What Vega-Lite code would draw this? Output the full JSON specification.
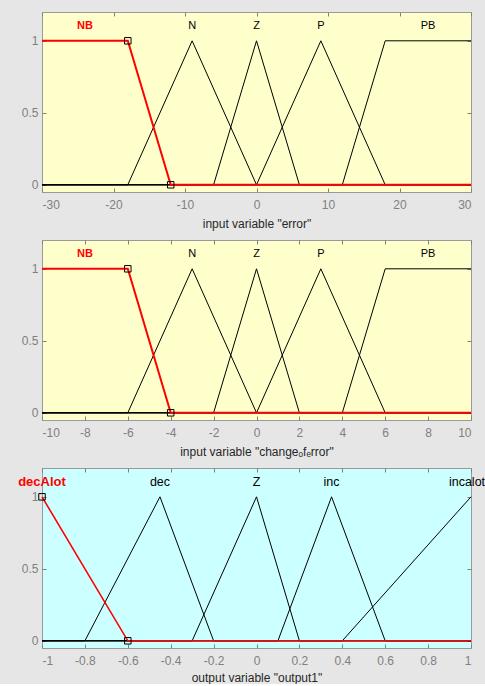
{
  "$schema": "https://vega.github.io/schema/vega-lite/v6.json",
  "background": "#e6e6e6",
  "padding": {"left": 17, "top": 11, "right": 0, "bottom": 0},
  "spacing": 9,
  "config": {
    "view": {"stroke": "#9a9a9a", "strokeWidth": 1},
    "axis": {
      "domain": false, "grid": false,
      "labelFont": "Liberation Sans", "labelFontSize": 12, "labelColor": "#808080",
      "tickColor": "#808080", "tickSize": -4, "labelPadding": 8,
      "titleFont": "Liberation Sans", "titleFontSize": 12, "titleColor": "#262626", "titleFontWeight": "normal",
      "labelExpr": "'' + datum.value"
    },
    "axisX": {"labelPadding": 11},
    "text": {"font": "Liberation Sans"}
  },
  "datasets": {
    "e": [
      {"mf": "NB", "x": -30, "y": 1}, {"mf": "NB", "x": -18, "y": 1}, {"mf": "NB", "x": -12, "y": 0}, {"mf": "NB", "x": 30, "y": 0},
      {"mf": "N", "x": -30, "y": 0}, {"mf": "N", "x": -18, "y": 0}, {"mf": "N", "x": -9, "y": 1}, {"mf": "N", "x": 0, "y": 0}, {"mf": "N", "x": 30, "y": 0},
      {"mf": "Z", "x": -30, "y": 0}, {"mf": "Z", "x": -6, "y": 0}, {"mf": "Z", "x": 0, "y": 1}, {"mf": "Z", "x": 6, "y": 0}, {"mf": "Z", "x": 30, "y": 0},
      {"mf": "P", "x": -30, "y": 0}, {"mf": "P", "x": 0, "y": 0}, {"mf": "P", "x": 9, "y": 1}, {"mf": "P", "x": 18, "y": 0}, {"mf": "P", "x": 30, "y": 0},
      {"mf": "PB", "x": -30, "y": 0}, {"mf": "PB", "x": 12, "y": 0}, {"mf": "PB", "x": 18, "y": 1}, {"mf": "PB", "x": 30, "y": 1}
    ],
    "eLab": [
      {"mf": "NB", "x": -24, "y": 1.1}, {"mf": "N", "x": -9, "y": 1.1}, {"mf": "Z", "x": 0, "y": 1.1}, {"mf": "P", "x": 9, "y": 1.1}, {"mf": "PB", "x": 24, "y": 1.1}
    ],
    "ePt": [{"x": -18, "y": 1}, {"x": -12, "y": 0}],
    "c": [
      {"mf": "NB", "x": -10, "y": 1}, {"mf": "NB", "x": -6, "y": 1}, {"mf": "NB", "x": -4, "y": 0}, {"mf": "NB", "x": 10, "y": 0},
      {"mf": "N", "x": -10, "y": 0}, {"mf": "N", "x": -6, "y": 0}, {"mf": "N", "x": -3, "y": 1}, {"mf": "N", "x": 0, "y": 0}, {"mf": "N", "x": 10, "y": 0},
      {"mf": "Z", "x": -10, "y": 0}, {"mf": "Z", "x": -2, "y": 0}, {"mf": "Z", "x": 0, "y": 1}, {"mf": "Z", "x": 2, "y": 0}, {"mf": "Z", "x": 10, "y": 0},
      {"mf": "P", "x": -10, "y": 0}, {"mf": "P", "x": 0, "y": 0}, {"mf": "P", "x": 3, "y": 1}, {"mf": "P", "x": 6, "y": 0}, {"mf": "P", "x": 10, "y": 0},
      {"mf": "PB", "x": -10, "y": 0}, {"mf": "PB", "x": 4, "y": 0}, {"mf": "PB", "x": 6, "y": 1}, {"mf": "PB", "x": 10, "y": 1}
    ],
    "cLab": [
      {"mf": "NB", "x": -8, "y": 1.1}, {"mf": "N", "x": -3, "y": 1.1}, {"mf": "Z", "x": 0, "y": 1.1}, {"mf": "P", "x": 3, "y": 1.1}, {"mf": "PB", "x": 8, "y": 1.1}
    ],
    "cPt": [{"x": -6, "y": 1}, {"x": -4, "y": 0}],
    "o": [
      {"mf": "decAlot", "x": -1, "y": 1}, {"mf": "decAlot", "x": -0.6, "y": 0}, {"mf": "decAlot", "x": 1, "y": 0},
      {"mf": "dec", "x": -1, "y": 0}, {"mf": "dec", "x": -0.8, "y": 0}, {"mf": "dec", "x": -0.45, "y": 1}, {"mf": "dec", "x": -0.2, "y": 0}, {"mf": "dec", "x": 1, "y": 0},
      {"mf": "Z", "x": -1, "y": 0}, {"mf": "Z", "x": -0.3, "y": 0}, {"mf": "Z", "x": 0, "y": 1}, {"mf": "Z", "x": 0.2, "y": 0}, {"mf": "Z", "x": 1, "y": 0},
      {"mf": "inc", "x": -1, "y": 0}, {"mf": "inc", "x": 0.1, "y": 0}, {"mf": "inc", "x": 0.35, "y": 1}, {"mf": "inc", "x": 0.6, "y": 0}, {"mf": "inc", "x": 1, "y": 0},
      {"mf": "incalot", "x": -1, "y": 0}, {"mf": "incalot", "x": 0.4, "y": 0}, {"mf": "incalot", "x": 1, "y": 1}
    ],
    "oLab": [
      {"mf": "decAlot", "x": -1, "y": 1.1}, {"mf": "dec", "x": -0.45, "y": 1.1}, {"mf": "Z", "x": 0, "y": 1.1}, {"mf": "inc", "x": 0.35, "y": 1.1}, {"mf": "incalot", "x": 1, "y": 1.1}
    ],
    "oPt": [{"x": -1, "y": 1}, {"x": -0.6, "y": 0}]
  },
  "vconcat": [
    {
      "width": 429, "height": 180,
      "view": {"fill": "#ffffcc"},
      "resolve": {"axis": {"x": "independent", "y": "independent"}},
      "layer": [
        {
          "data": {"name": "e"},
          "transform": [{"filter": "datum.mf !== 'NB'"}],
          "mark": {"type": "line", "color": "black", "strokeWidth": 1},
          "encoding": {
            "x": {"field": "x", "type": "quantitative", "scale": {"domain": [-30, 30], "nice": false, "zero": false},
                  "axis": {"values": [-30, -20, -10, 0, 10, 20, 30], "title": "input variable \"error\"", "titlePadding": 8}},
            "y": {"field": "y", "type": "quantitative", "scale": {"domain": [-0.05, 1.2], "nice": false, "zero": false},
                  "axis": {"values": [0, 0.5, 1], "title": null}},
            "detail": {"field": "mf"}
          }
        },
        {
          "data": {"name": "e"},
          "transform": [{"filter": "datum.mf === 'NB'"}],
          "mark": {"type": "line", "color": "#ff0000", "strokeWidth": 2},
          "encoding": {
            "x": {"field": "x", "type": "quantitative", "axis": null},
            "y": {"field": "y", "type": "quantitative", "axis": null}
          }
        },
        {
          "data": {"name": "ePt"},
          "mark": {"type": "point", "shape": "square", "filled": false, "color": "black", "size": 42, "strokeWidth": 1, "opacity": 1},
          "encoding": {
            "x": {"field": "x", "type": "quantitative", "axis": null},
            "y": {"field": "y", "type": "quantitative", "axis": null}
          }
        },
        {
          "data": {"name": "eLab"},
          "transform": [{"filter": "datum.mf === 'NB'"}],
          "mark": {"type": "text", "color": "#ff0000", "fontWeight": "bold", "fontSize": 11},
          "encoding": {
            "x": {"field": "x", "type": "quantitative", "axis": null},
            "y": {"field": "y", "type": "quantitative", "axis": null},
            "text": {"field": "mf"}
          }
        },
        {
          "data": {"name": "eLab"},
          "transform": [{"filter": "datum.mf !== 'NB'"}],
          "mark": {"type": "text", "color": "black", "fontSize": 11},
          "encoding": {
            "x": {"field": "x", "type": "quantitative",
                  "axis": {"orient": "top", "labels": false, "title": null, "values": [-30, -20, -10, 0, 10, 20, 30]}},
            "y": {"field": "y", "type": "quantitative",
                  "axis": {"orient": "right", "labels": false, "title": null, "values": [0, 0.5, 1]}},
            "text": {"field": "mf"}
          }
        }
      ]
    },
    {
      "width": 429, "height": 180,
      "view": {"fill": "#ffffcc"},
      "resolve": {"axis": {"x": "independent", "y": "independent"}},
      "layer": [
        {
          "data": {"name": "c"},
          "transform": [{"filter": "datum.mf !== 'NB'"}],
          "mark": {"type": "line", "color": "black", "strokeWidth": 1},
          "encoding": {
            "x": {"field": "x", "type": "quantitative", "scale": {"domain": [-10, 10], "nice": false, "zero": false},
                  "axis": {"values": [-10, -8, -6, -4, -2, 0, 2, 4, 6, 8, 10], "title": "input variable \"changeₒfₑrror\"", "titlePadding": 8}},
            "y": {"field": "y", "type": "quantitative", "scale": {"domain": [-0.05, 1.2], "nice": false, "zero": false},
                  "axis": {"values": [0, 0.5, 1], "title": null}},
            "detail": {"field": "mf"}
          }
        },
        {
          "data": {"name": "c"},
          "transform": [{"filter": "datum.mf === 'NB'"}],
          "mark": {"type": "line", "color": "#ff0000", "strokeWidth": 2},
          "encoding": {
            "x": {"field": "x", "type": "quantitative", "axis": null},
            "y": {"field": "y", "type": "quantitative", "axis": null}
          }
        },
        {
          "data": {"name": "cPt"},
          "mark": {"type": "point", "shape": "square", "filled": false, "color": "black", "size": 42, "strokeWidth": 1, "opacity": 1},
          "encoding": {
            "x": {"field": "x", "type": "quantitative", "axis": null},
            "y": {"field": "y", "type": "quantitative", "axis": null}
          }
        },
        {
          "data": {"name": "cLab"},
          "transform": [{"filter": "datum.mf === 'NB'"}],
          "mark": {"type": "text", "color": "#ff0000", "fontWeight": "bold", "fontSize": 11},
          "encoding": {
            "x": {"field": "x", "type": "quantitative", "axis": null},
            "y": {"field": "y", "type": "quantitative", "axis": null},
            "text": {"field": "mf"}
          }
        },
        {
          "data": {"name": "cLab"},
          "transform": [{"filter": "datum.mf !== 'NB'"}],
          "mark": {"type": "text", "color": "black", "fontSize": 11},
          "encoding": {
            "x": {"field": "x", "type": "quantitative",
                  "axis": {"orient": "top", "labels": false, "title": null, "values": [-10, -8, -6, -4, -2, 0, 2, 4, 6, 8, 10]}},
            "y": {"field": "y", "type": "quantitative",
                  "axis": {"orient": "right", "labels": false, "title": null, "values": [0, 0.5, 1]}},
            "text": {"field": "mf"}
          }
        }
      ]
    },
    {
      "width": 429, "height": 180,
      "view": {"fill": "#ccffff"},
      "resolve": {"axis": {"x": "independent", "y": "independent"}},
      "layer": [
        {
          "data": {"name": "o"},
          "transform": [{"filter": "datum.mf !== 'decAlot'"}],
          "mark": {"type": "line", "color": "black", "strokeWidth": 1},
          "encoding": {
            "x": {"field": "x", "type": "quantitative", "scale": {"domain": [-1, 1], "nice": false, "zero": false},
                  "axis": {"values": [-1, -0.8, -0.6, -0.4, -0.2, 0, 0.2, 0.4, 0.6, 0.8, 1], "title": "output variable \"output1\"", "titlePadding": 6}},
            "y": {"field": "y", "type": "quantitative", "scale": {"domain": [-0.05, 1.2], "nice": false, "zero": false},
                  "axis": {"values": [0, 0.5, 1], "title": null}},
            "detail": {"field": "mf"}
          }
        },
        {
          "data": {"name": "o"},
          "transform": [{"filter": "datum.mf === 'decAlot'"}],
          "mark": {"type": "line", "color": "#ff0000", "strokeWidth": 1.6},
          "encoding": {
            "x": {"field": "x", "type": "quantitative", "axis": null},
            "y": {"field": "y", "type": "quantitative", "axis": null}
          }
        },
        {
          "data": {"name": "oPt"},
          "mark": {"type": "point", "shape": "square", "filled": false, "color": "black", "size": 42, "strokeWidth": 1, "opacity": 1},
          "encoding": {
            "x": {"field": "x", "type": "quantitative", "axis": null},
            "y": {"field": "y", "type": "quantitative", "axis": null}
          }
        },
        {
          "data": {"name": "oLab"},
          "transform": [{"filter": "datum.mf === 'decAlot'"}],
          "mark": {"type": "text", "color": "#ff0000", "fontWeight": "bold", "fontSize": 13},
          "encoding": {
            "x": {"field": "x", "type": "quantitative", "axis": null},
            "y": {"field": "y", "type": "quantitative", "axis": null},
            "text": {"field": "mf"}
          }
        },
        {
          "data": {"name": "oLab"},
          "transform": [{"filter": "datum.mf === 'incalot'"}],
          "mark": {"type": "text", "color": "black", "fontSize": 12.5, "dx": -4},
          "encoding": {
            "x": {"field": "x", "type": "quantitative", "axis": null},
            "y": {"field": "y", "type": "quantitative", "axis": null},
            "text": {"field": "mf"}
          }
        },
        {
          "data": {"name": "oLab"},
          "transform": [{"filter": "datum.mf !== 'decAlot' && datum.mf !== 'incalot'"}],
          "mark": {"type": "text", "color": "black", "fontSize": 12.5},
          "encoding": {
            "x": {"field": "x", "type": "quantitative",
                  "axis": {"orient": "top", "labels": false, "title": null, "values": [-1, -0.8, -0.6, -0.4, -0.2, 0, 0.2, 0.4, 0.6, 0.8, 1]}},
            "y": {"field": "y", "type": "quantitative",
                  "axis": {"orient": "right", "labels": false, "title": null, "values": [0, 0.5, 1]}},
            "text": {"field": "mf"}
          }
        }
      ]
    }
  ]
}
